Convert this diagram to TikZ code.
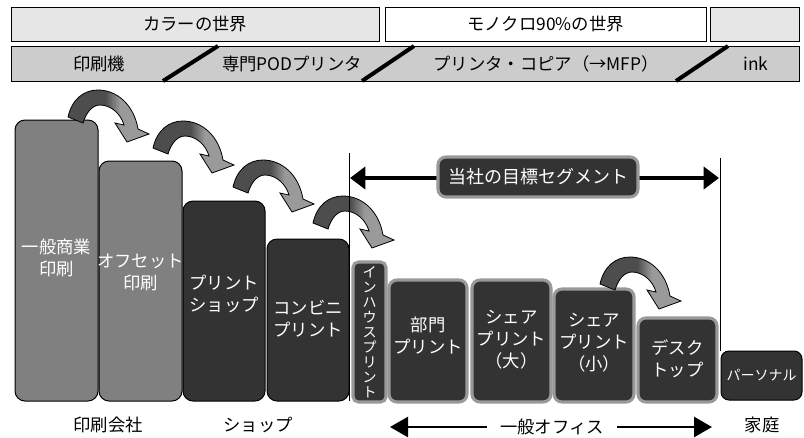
\documentclass[tikz,border=0pt]{standalone}
\usepackage{fontspec}
\setmainfont{Noto Sans CJK JP}
\usetikzlibrary{arrows.meta,fit}
\definecolor{dk}{HTML}{333333}
\definecolor{midg}{HTML}{808080}
\definecolor{rim}{HTML}{999999}
\definecolor{lg}{HTML}{E6E6E6}
\definecolor{rowg}{HTML}{CCCCCC}
\definecolor{arrdk}{HTML}{4D4D4D}
\definecolor{arrlt}{HTML}{9A9A9A}
\pgfdeclarehorizontalshading{arrowshade}{100bp}{color(0bp)=(arrdk); color(48bp)=(arrdk); color(57bp)=(arrlt); color(100bp)=(arrlt)}
\tikzset{
  topbox/.style={draw=black, line width=0.75pt, inner sep=0pt},
  toptext/.style={font=\fontsize{13}{15}\selectfont, inner sep=0pt},
  graybox/.style={draw=black, line width=0.75pt, fill=midg, inner sep=0pt, rounded corners=7.5pt},
  darkbox/.style={draw=black, line width=0.75pt, fill=dk, inner sep=0pt, rounded corners=7.5pt},
  officebox/.style={draw=rim, line width=2.3pt, fill=dk, inner sep=0pt, rounded corners=6pt},
  lbl/.style={text=white, font=\fontsize{13}{16.5}\selectfont, align=center, inner sep=0pt},
  botlbl/.style={font=\fontsize{13}{16}\selectfont, inner sep=0pt},
  slash/.style={line width=3pt, black},
  bigarrow/.style={line width=3pt, {Triangle[length=11.5pt,width=16.5pt]}-{Triangle[length=11.5pt,width=16.5pt]}},
  offarrow/.style={line width=2pt, -{Triangle[length=13.5pt,width=15pt]}},
  curvarrow/.pic={
    \path[draw=black, line width=0.6pt, shading=arrowshade]
      (0,0) .. controls (4,-18) and (16,-27) .. (30,-27)
      .. controls (49,-27) and (66,-12) .. (70,12)
      -- (81,17) -- (59,25) -- (47,6) -- (56,8)
      .. controls (53,-3) and (43,-12) .. (32,-12)
      .. controls (24,-12) and (18,-4) .. (15,6) -- cycle;
  }
}
\begin{document}
\begin{tikzpicture}[x=0.75pt,y=-0.75pt]
\useasboundingbox (0,0) rectangle (804,437);
% top rows
\node[topbox, fill=lg, fit={(11,7)(379,41)}] (c1) {};
\node[topbox, fill=white, fit={(385,7)(706,41)}] (c2) {};
\node[topbox, fill=lg, fit={(710,7)(799,41)}] (c3) {};
\node[toptext] (c1t) at (c1.center) {カラーの世界};
\node[toptext] (c2t) at (c2.center) {モノクロ90\%の世界};
\node[topbox, fill=rowg, fit={(11,46)(799,81)}] (r2) {};
\coordinate (s1a) at (163,81); \coordinate (s1b) at (218,46);
\coordinate (s2a) at (362,81); \coordinate (s2b) at (414,46);
\coordinate (s3a) at (676,81); \coordinate (s3b) at (728,46);
\draw[slash] (s1a) -- (s1b);
\draw[slash] (s2a) -- (s2b);
\draw[slash] (s3a) -- (s3b);
\node[toptext] (r2a) at (99,64) {印刷機};
\node[toptext] (r2b) at (292,64) {専門PODプリンタ};
\node[toptext] (r2c) at (546,64) {プリンタ・コピア（→MFP）};
\node[toptext] (r2d) at (756,64) {ink};
% segment arrow
\coordinate (sl) at (350,178); \coordinate (sr) at (719,178);
\draw[bigarrow] (sl) -- (sr);
\node[officebox, rounded corners=6pt, fit={(438,157)(638,197)}] (seg) {};
\node[lbl, font=\fontsize{13.5}{16}\selectfont] (segt) at (seg.center) {当社の目標セグメント};
% boxes
\node[graybox, fit={(15,120)(98,401)}] (b1) {};
\node[graybox, fit={(99,161)(182,401)}] (b2) {};
\node[darkbox, fit={(183,201)(265,401)}] (b3) {};
\node[darkbox, fit={(267,239)(349,401)}] (b4) {};
\node[officebox, rounded corners=4pt, fit={(353,262)(386,402)}] (b5) {};
\node[officebox, fit={(389,280)(467,402)}] (b6) {};
\node[officebox, fit={(472,280)(551,402)}] (b7) {};
\node[officebox, fit={(554,289)(634,402)}] (b8) {};
\node[officebox, fit={(638,318)(717,402)}] (b9) {};
\node[darkbox, rounded corners=6pt, fit={(721,351)(802,400)}] (b10) {};
% labels
\node[lbl] (t1) at (56.5,258) {一般商業\\印刷};
\node[lbl] (t2) at (140.5,272) {オフセット\\印刷};
\node[lbl] (t3) at (224,294) {プリント\\ショップ};
\node[lbl] (t4) at (308,319) {コンビニ\\プリント};
\node[lbl, font=\fontsize{10.5}{11.25}\selectfont] (t5) at (369.5,332) {イ\\ン\\ハ\\ウ\\ス\\プ\\リ\\ン\\ト};
\node[lbl] (t6) at (428,336) {部門\\プリント};
\node[lbl] (t7) at (511.5,340) {シェア\\プリント\\（大）};
\node[lbl] (t8) at (594,343) {シェア\\プリント\\（小）};
\node[lbl] (t9) at (677.5,359) {デスク\\トップ};
\node[lbl, font=\fontsize{10.5}{13}\selectfont] (t10) at (761.5,375) {パーソナル};
% curved arrows
\pic at (68,117) {curvarrow};
\pic at (153,148) {curvarrow};
\pic at (233,187) {curvarrow};
\pic at (313,223) {curvarrow};
\pic at (600,284) {curvarrow};
% vertical lines
\coordinate (vl1) at (349,153); \coordinate (vl2) at (349,401);
\coordinate (vr1) at (720,158); \coordinate (vr2) at (720,351);
\draw[line width=0.75pt] (vl1) -- (vl2);
\draw[line width=0.75pt] (vr1) -- (vr2);
% bottom labels
\node[botlbl] (l1) at (108,425) {印刷会社};
\node[botlbl] (l2) at (258,425) {ショップ};
\node[botlbl, inner xsep=10pt] (l3) at (552,427) {一般オフィス};
\node[botlbl] (l4) at (762,425) {家庭};
\coordinate (oL) at (390,427); \coordinate (oR) at (712,427);
\draw[offarrow] (l3.west) -- (oL);
\draw[offarrow] (l3.east) -- (oR);
\end{tikzpicture}
\end{document}
